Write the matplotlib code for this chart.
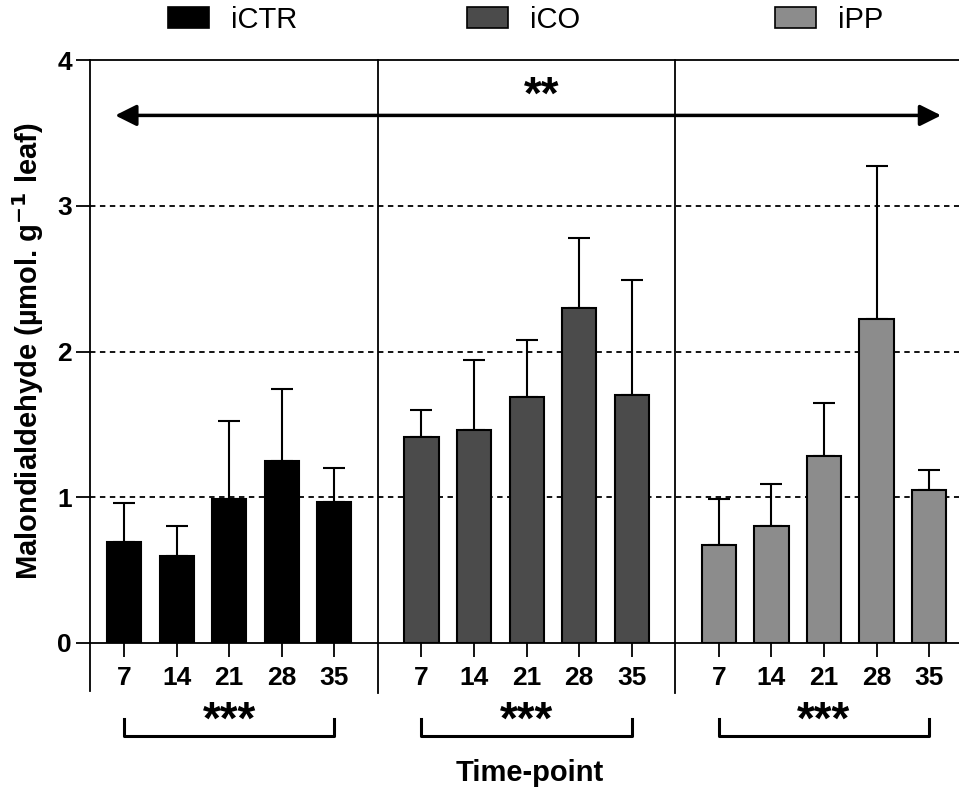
import matplotlib
matplotlib.use("Agg")
import matplotlib.pyplot as plt
import numpy as np
from matplotlib.patches import Patch

plt.rcParams["font.family"] = ["Liberation Sans", "DejaVu Sans"]

# data
groups = ["iCTR", "iCO", "iPP"]
days = ["7", "14", "21", "28", "35"]
means = {
    "iCTR": [0.69, 0.60, 0.99, 1.25, 0.97],
    "iCO": [1.41, 1.46, 1.69, 2.30, 1.70],
    "iPP": [0.67, 0.80, 1.28, 2.22, 1.05],
}
upper = {
    "iCTR": [0.96, 0.80, 1.52, 1.74, 1.20],
    "iCO": [1.60, 1.94, 2.08, 2.78, 2.49],
    "iPP": [0.99, 1.09, 1.65, 3.27, 1.19],
}
colors = {"iCTR": "#000000", "iCO": "#4b4b4b", "iPP": "#8c8c8c"}
legend_x = [0.175, 0.487, 0.808]  # left edge of each legend entry (figure fraction)

gap = 1.66
fig = plt.figure(figsize=(9.59, 7.94), dpi=100)
ax = fig.add_axes([0.0938, 0.1902, 0.9062, 0.7342])

for i, g in enumerate(groups):
    x = np.arange(len(days)) + i * (len(days) - 1 + gap)
    err = np.array(upper[g]) - np.array(means[g])
    ax.bar(x, means[g], width=0.65, color=colors[g], edgecolor="black",
           linewidth=1.5, zorder=3, label=g)
    ax.errorbar(x, means[g], yerr=[np.zeros_like(err), err], fmt="none",
                ecolor="black", elinewidth=1.5, capsize=8, capthick=1.5, zorder=2)
    for xi, d in zip(x, days):
        ax.text(xi, -0.155, d, ha="center", va="top", fontsize=19, fontweight="bold")
    # bracket under each group
    ax.plot([x[0], x[0], x[-1], x[-1]], [-0.52, -0.64, -0.64, -0.52],
            color="black", lw=2.2, clip_on=False)
    ax.text((x[0] + x[-1]) / 2, -0.54, "***", ha="center", va="center",
            fontsize=33, fontweight="bold")
    if i > 0:
        sep = x[0] - gap / 2
        ax.axvline(sep, ymin=-0.085, ymax=1, color="black", lw=1.3,
                   clip_on=False, zorder=4)

all_x = np.concatenate([np.arange(len(days)) + i * (len(days) - 1 + gap)
                        for i in range(len(groups))])
ax.set_xlim(-0.65, all_x[-1] + 0.57)
ax.set_ylim(0, 4)
ax.set_xticks(all_x)
ax.set_xticklabels([])
ax.tick_params(axis="x", length=10, width=1.3, direction="out")
ax.set_yticks([0, 1, 2, 3, 4])
ax.set_yticklabels(["0", "1", "2", "3", "4"], fontsize=19, fontweight="bold")
ax.tick_params(axis="y", length=10, width=1.3, pad=3)

for y in [1, 2, 3]:
    ax.axhline(y, color="black", lw=1.3, ls=(0, (3, 2.5)), zorder=1)

ax.spines["right"].set_visible(False)
ax.spines["left"].set_visible(False)
for s in ["top", "bottom"]:
    ax.spines[s].set_linewidth(1.3)
ax.axvline(-0.65, ymin=-0.082, ymax=1, color="black", lw=1.3, clip_on=False, zorder=4)

# significance arrow across all groups
ax.annotate("", xy=(15.55, 3.62), xytext=(-0.17, 3.62), annotation_clip=False,
            arrowprops=dict(arrowstyle="<|-|>", color="black", lw=2.5,
                            mutation_scale=32, shrinkA=0, shrinkB=0))
ax.text(7.95, 3.75, "**", ha="center", va="center", fontsize=33, fontweight="bold")

ax.set_ylabel("Malondialdehyde (\u00b5mol. g$^{\\mathbf{-1}}$ leaf)", fontsize=21,
              fontweight="bold", labelpad=8)
fig.text(0.552, 0.027, "Time-point", ha="center", va="center", fontsize=21,
         fontweight="bold")

for g, lx in zip(groups, legend_x):
    h = Patch(facecolor=colors[g], edgecolor="black", linewidth=1.2)
    fig.legend([h], [g], loc="center left", bbox_to_anchor=(lx, 0.975),
               frameon=False, fontsize=21, handlelength=1.4, handleheight=0.7,
               handletextpad=0.75, borderaxespad=0, borderpad=0)

fig.savefig("out.png", dpi=100)
